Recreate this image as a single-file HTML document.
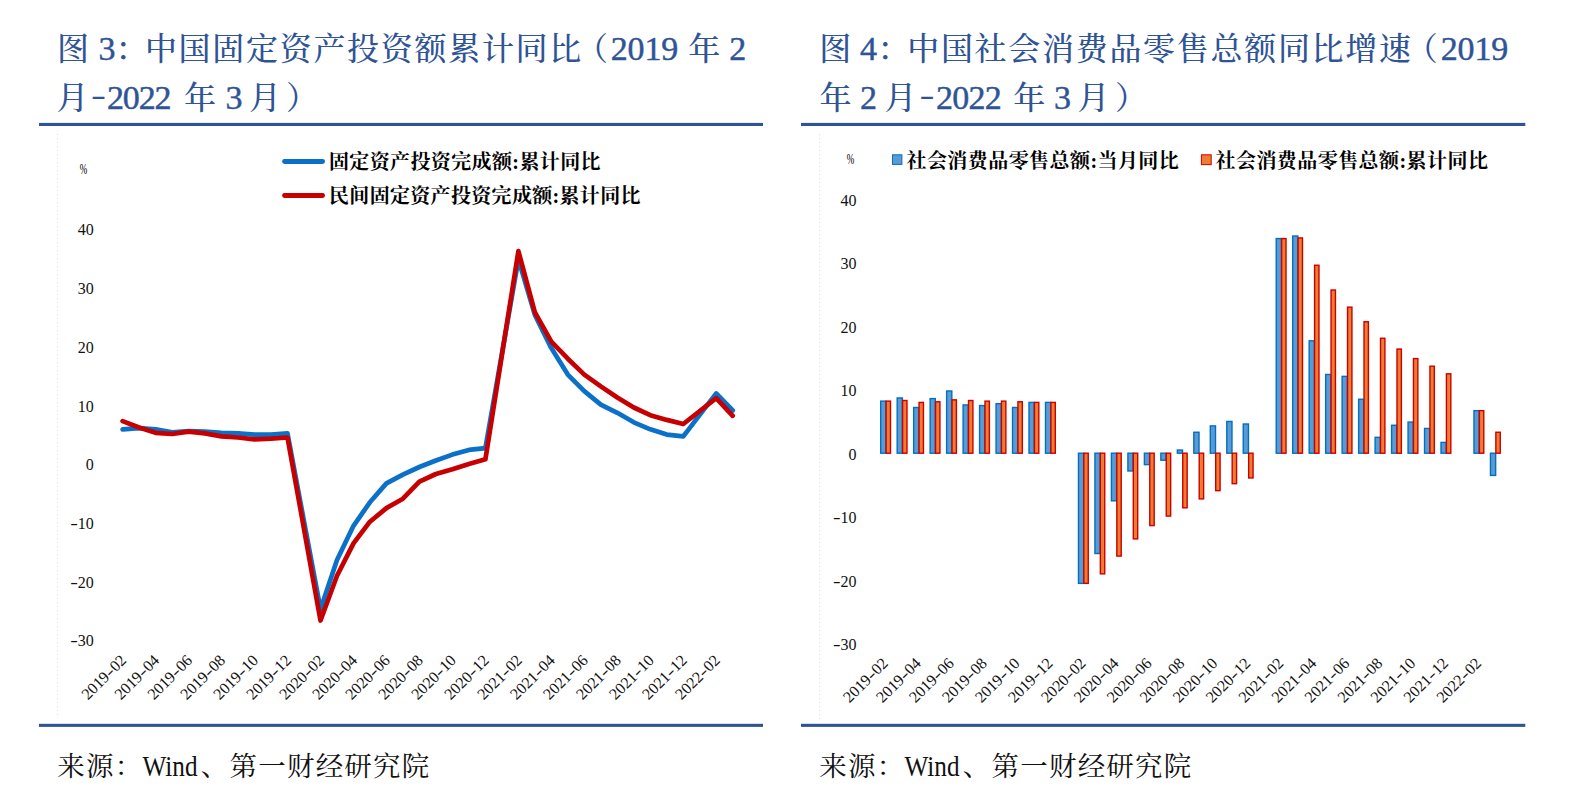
<!DOCTYPE html>
<html lang="zh-CN">
<head>
<meta charset="utf-8">
<title>图 3 / 图 4</title>
<style>
html,body{margin:0;padding:0;background:#fff;}
body{width:1574px;height:797px;overflow:hidden;position:relative;font-family:"Liberation Serif","Noto Serif CJK SC",serif;}
svg{position:absolute;left:0;top:0;display:block;}
text{white-space:pre;}
.ttl{font-family:"Liberation Serif","Noto Serif CJK SC",serif;font-size:32px;font-weight:500;fill:#2F5496;text-anchor:middle;}
.dg{font-size:34px;font-weight:400;stroke:#2F5496;stroke-width:0.45px;}
.src{font-family:"Liberation Serif","Noto Serif CJK SC",serif;font-size:27.5px;fill:#111;text-anchor:middle;}
.ax{font-family:"Liberation Serif","Noto Serif CJK SC",serif;font-size:16px;fill:#111;}
.pct{font-family:"Liberation Serif","Noto Serif CJK SC",serif;font-size:15.5px;fill:#000;}
.lg{font-family:"Liberation Serif","Noto Serif CJK SC",serif;font-size:20px;font-weight:700;fill:#000;}
</style>
</head>
<body>
<svg width="1574" height="797" viewBox="0 0 1574 797">
<rect x="0" y="0" width="1574" height="797" fill="#ffffff"/>

<rect x="39" y="122.9" width="724" height="3.1" fill="#2F5496"/>
<rect x="801" y="122.9" width="724.3" height="3.1" fill="#2F5496"/>
<rect x="39" y="723.8" width="724" height="3.1" fill="#2F5496"/>
<rect x="801" y="723.8" width="724.3" height="3.1" fill="#2F5496"/>
<line x1="57.5" y1="134" x2="57.5" y2="716" stroke="#e2dde0" stroke-width="1" stroke-dasharray="1 3"/>
<line x1="819.5" y1="134" x2="819.5" y2="719" stroke="#e2dde0" stroke-width="1" stroke-dasharray="1 3"/>
<text id="t1a" class="ttl" y="60.2" x="73.0 90.0 106.9 131.5 160.9 194.6 228.3 262.0 295.7 329.4 363.1 396.8 430.5 464.2 497.9 531.6 565.3 592.0 619.3 636.1 653.0 669.8 686.0 704.3 724.0 737.8">图 <tspan class="dg">3</tspan>：中国固定资产投资额累计同比（<tspan class="dg">2019</tspan> 年 <tspan class="dg">2</tspan></text>
<text id="t1b" class="ttl" y="109.4" x="72.6 98.6 115.4 131.3 147.2 163.1 177.0 199.9 220.0 234.0 247.0 265.0 302.0">月<tspan textLength="15" lengthAdjust="spacingAndGlyphs" dy="-4">-</tspan><tspan class="dg" dy="4">2022</tspan> 年 <tspan class="dg">3</tspan> 月）</text>
<text id="t2a" class="ttl" y="60.2" x="835.3 852.0 868.6 893.5 923.2 956.9 990.6 1024.3 1058.0 1091.7 1125.4 1159.1 1192.8 1226.5 1260.2 1293.9 1327.6 1361.3 1395.0 1421.7 1449.2 1466.0 1482.9 1499.8">图 <tspan class="dg">4</tspan>：中国社会消费品零售总额同比增速（<tspan class="dg">2019</tspan></text>
<text id="t2b" class="ttl" y="109.4" x="835.6 855.0 868.4 882.0 900.4 927.0 944.4 960.7 977.0 993.3 1008.0 1029.3 1048.0 1062.4 1076.0 1093.5 1131.0">年 <tspan class="dg">2</tspan> 月<tspan textLength="15" lengthAdjust="spacingAndGlyphs" dy="-4">-</tspan><tspan class="dg" dy="4">2022</tspan> 年 <tspan class="dg">3</tspan> 月）</text>
<text id="s1" class="src" y="775.5"><tspan x="71.1 99.8 128.5">来源：</tspan><tspan x="170.0" textLength="55" lengthAdjust="spacingAndGlyphs" font-size="29">Wind</tspan><tspan x="214.6 243.3 272.0 300.7 329.4 358.1 386.8 415.5">、第一财经研究院</tspan></text>
<text id="s2" class="src" y="775.5"><tspan x="833.1 861.8 890.5">来源：</tspan><tspan x="932.0" textLength="55" lengthAdjust="spacingAndGlyphs" font-size="29">Wind</tspan><tspan x="976.6 1005.3 1034.0 1062.7 1091.4 1120.1 1148.8 1177.5">、第一财经研究院</tspan></text>
<text class="pct" transform="translate(79.8,174.3) scale(0.58,1)">%</text>
<text class="ax" x="93.8" y="235.4" text-anchor="end">40</text>
<text class="ax" x="93.8" y="294.1" text-anchor="end">30</text>
<text class="ax" x="93.8" y="352.8" text-anchor="end">20</text>
<text class="ax" x="93.8" y="411.5" text-anchor="end">10</text>
<text class="ax" x="93.8" y="470.2" text-anchor="end">0</text>
<text class="ax" x="93.8" y="528.9" text-anchor="end"><tspan textLength="7.6" lengthAdjust="spacingAndGlyphs">-</tspan>10</text>
<text class="ax" x="93.8" y="587.6" text-anchor="end"><tspan textLength="7.6" lengthAdjust="spacingAndGlyphs">-</tspan>20</text>
<text class="ax" x="93.8" y="646.3" text-anchor="end"><tspan textLength="7.6" lengthAdjust="spacingAndGlyphs">-</tspan>30</text>
<text class="ax" transform="translate(127.2,661.3) rotate(-45)" text-anchor="end">2019<tspan textLength="7.6" lengthAdjust="spacingAndGlyphs">-</tspan>02</text>
<text class="ax" transform="translate(160.2,661.3) rotate(-45)" text-anchor="end">2019<tspan textLength="7.6" lengthAdjust="spacingAndGlyphs">-</tspan>04</text>
<text class="ax" transform="translate(193.2,661.3) rotate(-45)" text-anchor="end">2019<tspan textLength="7.6" lengthAdjust="spacingAndGlyphs">-</tspan>06</text>
<text class="ax" transform="translate(226.1,661.3) rotate(-45)" text-anchor="end">2019<tspan textLength="7.6" lengthAdjust="spacingAndGlyphs">-</tspan>08</text>
<text class="ax" transform="translate(259.1,661.3) rotate(-45)" text-anchor="end">2019<tspan textLength="7.6" lengthAdjust="spacingAndGlyphs">-</tspan>10</text>
<text class="ax" transform="translate(292.1,661.3) rotate(-45)" text-anchor="end">2019<tspan textLength="7.6" lengthAdjust="spacingAndGlyphs">-</tspan>12</text>
<text class="ax" transform="translate(325.1,661.3) rotate(-45)" text-anchor="end">2020<tspan textLength="7.6" lengthAdjust="spacingAndGlyphs">-</tspan>02</text>
<text class="ax" transform="translate(358.1,661.3) rotate(-45)" text-anchor="end">2020<tspan textLength="7.6" lengthAdjust="spacingAndGlyphs">-</tspan>04</text>
<text class="ax" transform="translate(391.0,661.3) rotate(-45)" text-anchor="end">2020<tspan textLength="7.6" lengthAdjust="spacingAndGlyphs">-</tspan>06</text>
<text class="ax" transform="translate(424.0,661.3) rotate(-45)" text-anchor="end">2020<tspan textLength="7.6" lengthAdjust="spacingAndGlyphs">-</tspan>08</text>
<text class="ax" transform="translate(457.0,661.3) rotate(-45)" text-anchor="end">2020<tspan textLength="7.6" lengthAdjust="spacingAndGlyphs">-</tspan>10</text>
<text class="ax" transform="translate(490.0,661.3) rotate(-45)" text-anchor="end">2020<tspan textLength="7.6" lengthAdjust="spacingAndGlyphs">-</tspan>12</text>
<text class="ax" transform="translate(523.0,661.3) rotate(-45)" text-anchor="end">2021<tspan textLength="7.6" lengthAdjust="spacingAndGlyphs">-</tspan>02</text>
<text class="ax" transform="translate(555.9,661.3) rotate(-45)" text-anchor="end">2021<tspan textLength="7.6" lengthAdjust="spacingAndGlyphs">-</tspan>04</text>
<text class="ax" transform="translate(588.9,661.3) rotate(-45)" text-anchor="end">2021<tspan textLength="7.6" lengthAdjust="spacingAndGlyphs">-</tspan>06</text>
<text class="ax" transform="translate(621.9,661.3) rotate(-45)" text-anchor="end">2021<tspan textLength="7.6" lengthAdjust="spacingAndGlyphs">-</tspan>08</text>
<text class="ax" transform="translate(654.9,661.3) rotate(-45)" text-anchor="end">2021<tspan textLength="7.6" lengthAdjust="spacingAndGlyphs">-</tspan>10</text>
<text class="ax" transform="translate(687.9,661.3) rotate(-45)" text-anchor="end">2021<tspan textLength="7.6" lengthAdjust="spacingAndGlyphs">-</tspan>12</text>
<text class="ax" transform="translate(720.8,661.3) rotate(-45)" text-anchor="end">2022<tspan textLength="7.6" lengthAdjust="spacingAndGlyphs">-</tspan>02</text>
<polyline points="122.6,429.3 139.1,428.1 155.6,429.3 172.1,432.3 188.6,431.1 205.0,431.7 221.5,432.8 238.0,433.4 254.5,434.6 271.0,434.6 287.5,433.4 320.5,609.3 337.0,559.9 353.5,525.8 369.9,502.3 386.4,483.4 402.9,474.6 419.4,467.0 435.9,460.5 452.4,454.6 468.9,449.9 485.4,448.1 518.4,259.3 534.8,314.6 551.3,348.1 567.8,374.6 584.3,391.1 600.8,404.6 617.3,412.8 633.8,422.3 650.3,429.3 666.8,434.6 683.3,436.4 716.2,393.4 732.7,410.5" fill="none" stroke="#0B70C8" stroke-width="4.7" stroke-linejoin="round" stroke-linecap="round"/>
<polyline points="122.6,421.1 139.1,427.5 155.6,432.8 172.1,434.0 188.6,431.7 205.0,433.4 221.5,436.4 238.0,437.5 254.5,439.3 271.0,438.7 287.5,437.5 320.5,620.5 337.0,575.8 353.5,543.4 369.9,521.7 386.4,508.1 402.9,498.7 419.4,481.7 435.9,474.0 452.4,469.3 468.9,464.0 485.4,459.3 518.4,251.1 534.8,312.2 551.3,341.7 567.8,358.7 584.3,374.6 600.8,386.4 617.3,397.5 633.8,407.5 650.3,415.2 666.8,419.9 683.3,424.0 716.2,398.1 732.7,415.8" fill="none" stroke="#C60000" stroke-width="4.7" stroke-linejoin="round" stroke-linecap="round"/>
<line x1="284.5" y1="161.5" x2="322.6" y2="161.5" stroke="#0B70C8" stroke-width="4.8" stroke-linecap="round"/>
<line x1="284.5" y1="195.5" x2="322.6" y2="195.5" stroke="#C60000" stroke-width="4.8" stroke-linecap="round"/>
<text id="l1" class="lg" x="329" y="168.5" textLength="271.5" lengthAdjust="spacing">固定资产投资完成额:累计同比</text>
<text id="l2" class="lg" x="329" y="203" textLength="311.5" lengthAdjust="spacing">民间固定资产投资完成额:累计同比</text>
<text class="pct" transform="translate(846.8,164.2) scale(0.58,1)">%</text>
<text class="ax" x="856.5" y="205.5" text-anchor="end">40</text>
<text class="ax" x="856.5" y="269.0" text-anchor="end">30</text>
<text class="ax" x="856.5" y="332.5" text-anchor="end">20</text>
<text class="ax" x="856.5" y="396.0" text-anchor="end">10</text>
<text class="ax" x="856.5" y="459.5" text-anchor="end">0</text>
<text class="ax" x="856.5" y="523.0" text-anchor="end"><tspan textLength="7.6" lengthAdjust="spacingAndGlyphs">-</tspan>10</text>
<text class="ax" x="856.5" y="586.5" text-anchor="end"><tspan textLength="7.6" lengthAdjust="spacingAndGlyphs">-</tspan>20</text>
<text class="ax" x="856.5" y="650.0" text-anchor="end"><tspan textLength="7.6" lengthAdjust="spacingAndGlyphs">-</tspan>30</text>
<text class="ax" transform="translate(888.9,664.3) rotate(-45)" text-anchor="end">2019<tspan textLength="7.6" lengthAdjust="spacingAndGlyphs">-</tspan>02</text>
<text class="ax" transform="translate(921.9,664.3) rotate(-45)" text-anchor="end">2019<tspan textLength="7.6" lengthAdjust="spacingAndGlyphs">-</tspan>04</text>
<text class="ax" transform="translate(954.8,664.3) rotate(-45)" text-anchor="end">2019<tspan textLength="7.6" lengthAdjust="spacingAndGlyphs">-</tspan>06</text>
<text class="ax" transform="translate(987.8,664.3) rotate(-45)" text-anchor="end">2019<tspan textLength="7.6" lengthAdjust="spacingAndGlyphs">-</tspan>08</text>
<text class="ax" transform="translate(1020.7,664.3) rotate(-45)" text-anchor="end">2019<tspan textLength="7.6" lengthAdjust="spacingAndGlyphs">-</tspan>10</text>
<text class="ax" transform="translate(1053.7,664.3) rotate(-45)" text-anchor="end">2019<tspan textLength="7.6" lengthAdjust="spacingAndGlyphs">-</tspan>12</text>
<text class="ax" transform="translate(1086.7,664.3) rotate(-45)" text-anchor="end">2020<tspan textLength="7.6" lengthAdjust="spacingAndGlyphs">-</tspan>02</text>
<text class="ax" transform="translate(1119.6,664.3) rotate(-45)" text-anchor="end">2020<tspan textLength="7.6" lengthAdjust="spacingAndGlyphs">-</tspan>04</text>
<text class="ax" transform="translate(1152.6,664.3) rotate(-45)" text-anchor="end">2020<tspan textLength="7.6" lengthAdjust="spacingAndGlyphs">-</tspan>06</text>
<text class="ax" transform="translate(1185.5,664.3) rotate(-45)" text-anchor="end">2020<tspan textLength="7.6" lengthAdjust="spacingAndGlyphs">-</tspan>08</text>
<text class="ax" transform="translate(1218.5,664.3) rotate(-45)" text-anchor="end">2020<tspan textLength="7.6" lengthAdjust="spacingAndGlyphs">-</tspan>10</text>
<text class="ax" transform="translate(1251.5,664.3) rotate(-45)" text-anchor="end">2020<tspan textLength="7.6" lengthAdjust="spacingAndGlyphs">-</tspan>12</text>
<text class="ax" transform="translate(1284.4,664.3) rotate(-45)" text-anchor="end">2021<tspan textLength="7.6" lengthAdjust="spacingAndGlyphs">-</tspan>02</text>
<text class="ax" transform="translate(1317.4,664.3) rotate(-45)" text-anchor="end">2021<tspan textLength="7.6" lengthAdjust="spacingAndGlyphs">-</tspan>04</text>
<text class="ax" transform="translate(1350.3,664.3) rotate(-45)" text-anchor="end">2021<tspan textLength="7.6" lengthAdjust="spacingAndGlyphs">-</tspan>06</text>
<text class="ax" transform="translate(1383.3,664.3) rotate(-45)" text-anchor="end">2021<tspan textLength="7.6" lengthAdjust="spacingAndGlyphs">-</tspan>08</text>
<text class="ax" transform="translate(1416.3,664.3) rotate(-45)" text-anchor="end">2021<tspan textLength="7.6" lengthAdjust="spacingAndGlyphs">-</tspan>10</text>
<text class="ax" transform="translate(1449.2,664.3) rotate(-45)" text-anchor="end">2021<tspan textLength="7.6" lengthAdjust="spacingAndGlyphs">-</tspan>12</text>
<text class="ax" transform="translate(1482.2,664.3) rotate(-45)" text-anchor="end">2022<tspan textLength="7.6" lengthAdjust="spacingAndGlyphs">-</tspan>02</text>
<rect x="880.70" y="401.13" width="5.20" height="52.07" fill="#5B9BD5" stroke="#0070C0" stroke-width="1.4"/>
<rect x="886.10" y="401.13" width="4.40" height="52.07" fill="#ED7D31" stroke="#CC0000" stroke-width="1.4"/>
<rect x="897.18" y="397.95" width="5.20" height="55.24" fill="#5B9BD5" stroke="#0070C0" stroke-width="1.4"/>
<rect x="902.58" y="400.50" width="4.40" height="52.70" fill="#ED7D31" stroke="#CC0000" stroke-width="1.4"/>
<rect x="913.66" y="407.48" width="5.20" height="45.72" fill="#5B9BD5" stroke="#0070C0" stroke-width="1.4"/>
<rect x="919.06" y="402.40" width="4.40" height="50.80" fill="#ED7D31" stroke="#CC0000" stroke-width="1.4"/>
<rect x="930.14" y="398.59" width="5.20" height="54.61" fill="#5B9BD5" stroke="#0070C0" stroke-width="1.4"/>
<rect x="935.54" y="401.76" width="4.40" height="51.43" fill="#ED7D31" stroke="#CC0000" stroke-width="1.4"/>
<rect x="946.62" y="390.97" width="5.20" height="62.23" fill="#5B9BD5" stroke="#0070C0" stroke-width="1.4"/>
<rect x="952.02" y="399.86" width="4.40" height="53.34" fill="#ED7D31" stroke="#CC0000" stroke-width="1.4"/>
<rect x="963.10" y="404.94" width="5.20" height="48.26" fill="#5B9BD5" stroke="#0070C0" stroke-width="1.4"/>
<rect x="968.50" y="400.50" width="4.40" height="52.70" fill="#ED7D31" stroke="#CC0000" stroke-width="1.4"/>
<rect x="979.58" y="405.57" width="5.20" height="47.62" fill="#5B9BD5" stroke="#0070C0" stroke-width="1.4"/>
<rect x="984.98" y="401.13" width="4.40" height="52.07" fill="#ED7D31" stroke="#CC0000" stroke-width="1.4"/>
<rect x="996.06" y="403.67" width="5.20" height="49.53" fill="#5B9BD5" stroke="#0070C0" stroke-width="1.4"/>
<rect x="1001.46" y="401.13" width="4.40" height="52.07" fill="#ED7D31" stroke="#CC0000" stroke-width="1.4"/>
<rect x="1012.54" y="407.48" width="5.20" height="45.72" fill="#5B9BD5" stroke="#0070C0" stroke-width="1.4"/>
<rect x="1017.94" y="401.76" width="4.40" height="51.43" fill="#ED7D31" stroke="#CC0000" stroke-width="1.4"/>
<rect x="1029.02" y="402.40" width="5.20" height="50.80" fill="#5B9BD5" stroke="#0070C0" stroke-width="1.4"/>
<rect x="1034.42" y="402.40" width="4.40" height="50.80" fill="#ED7D31" stroke="#CC0000" stroke-width="1.4"/>
<rect x="1045.50" y="402.40" width="5.20" height="50.80" fill="#5B9BD5" stroke="#0070C0" stroke-width="1.4"/>
<rect x="1050.90" y="402.40" width="4.40" height="50.80" fill="#ED7D31" stroke="#CC0000" stroke-width="1.4"/>
<rect x="1078.46" y="453.20" width="5.20" height="130.17" fill="#5B9BD5" stroke="#0070C0" stroke-width="1.4"/>
<rect x="1083.86" y="453.20" width="4.40" height="130.17" fill="#ED7D31" stroke="#CC0000" stroke-width="1.4"/>
<rect x="1094.94" y="453.20" width="5.20" height="100.33" fill="#5B9BD5" stroke="#0070C0" stroke-width="1.4"/>
<rect x="1100.34" y="453.20" width="4.40" height="120.65" fill="#ED7D31" stroke="#CC0000" stroke-width="1.4"/>
<rect x="1111.42" y="453.20" width="5.20" height="47.62" fill="#5B9BD5" stroke="#0070C0" stroke-width="1.4"/>
<rect x="1116.82" y="453.20" width="4.40" height="102.87" fill="#ED7D31" stroke="#CC0000" stroke-width="1.4"/>
<rect x="1127.90" y="453.20" width="5.20" height="17.78" fill="#5B9BD5" stroke="#0070C0" stroke-width="1.4"/>
<rect x="1133.30" y="453.20" width="4.40" height="85.72" fill="#ED7D31" stroke="#CC0000" stroke-width="1.4"/>
<rect x="1144.38" y="453.20" width="5.20" height="11.43" fill="#5B9BD5" stroke="#0070C0" stroke-width="1.4"/>
<rect x="1149.78" y="453.20" width="4.40" height="72.39" fill="#ED7D31" stroke="#CC0000" stroke-width="1.4"/>
<rect x="1160.86" y="453.20" width="5.20" height="6.99" fill="#5B9BD5" stroke="#0070C0" stroke-width="1.4"/>
<rect x="1166.26" y="453.20" width="4.40" height="62.87" fill="#ED7D31" stroke="#CC0000" stroke-width="1.4"/>
<rect x="1177.34" y="450.02" width="5.20" height="3.17" fill="#5B9BD5" stroke="#0070C0" stroke-width="1.4"/>
<rect x="1182.74" y="453.20" width="4.40" height="54.61" fill="#ED7D31" stroke="#CC0000" stroke-width="1.4"/>
<rect x="1193.82" y="432.25" width="5.20" height="20.95" fill="#5B9BD5" stroke="#0070C0" stroke-width="1.4"/>
<rect x="1199.22" y="453.20" width="4.40" height="45.72" fill="#ED7D31" stroke="#CC0000" stroke-width="1.4"/>
<rect x="1210.30" y="425.89" width="5.20" height="27.30" fill="#5B9BD5" stroke="#0070C0" stroke-width="1.4"/>
<rect x="1215.70" y="453.20" width="4.40" height="37.47" fill="#ED7D31" stroke="#CC0000" stroke-width="1.4"/>
<rect x="1226.78" y="421.45" width="5.20" height="31.75" fill="#5B9BD5" stroke="#0070C0" stroke-width="1.4"/>
<rect x="1232.18" y="453.20" width="4.40" height="30.48" fill="#ED7D31" stroke="#CC0000" stroke-width="1.4"/>
<rect x="1243.26" y="423.99" width="5.20" height="29.21" fill="#5B9BD5" stroke="#0070C0" stroke-width="1.4"/>
<rect x="1248.66" y="453.20" width="4.40" height="24.76" fill="#ED7D31" stroke="#CC0000" stroke-width="1.4"/>
<rect x="1276.22" y="238.57" width="5.20" height="214.63" fill="#5B9BD5" stroke="#0070C0" stroke-width="1.4"/>
<rect x="1281.62" y="238.57" width="4.40" height="214.63" fill="#ED7D31" stroke="#CC0000" stroke-width="1.4"/>
<rect x="1292.70" y="236.03" width="5.20" height="217.17" fill="#5B9BD5" stroke="#0070C0" stroke-width="1.4"/>
<rect x="1298.10" y="237.94" width="4.40" height="215.26" fill="#ED7D31" stroke="#CC0000" stroke-width="1.4"/>
<rect x="1309.18" y="340.81" width="5.20" height="112.39" fill="#5B9BD5" stroke="#0070C0" stroke-width="1.4"/>
<rect x="1314.58" y="265.24" width="4.40" height="187.96" fill="#ED7D31" stroke="#CC0000" stroke-width="1.4"/>
<rect x="1325.66" y="374.46" width="5.20" height="78.74" fill="#5B9BD5" stroke="#0070C0" stroke-width="1.4"/>
<rect x="1331.06" y="290.00" width="4.40" height="163.19" fill="#ED7D31" stroke="#CC0000" stroke-width="1.4"/>
<rect x="1342.14" y="376.37" width="5.20" height="76.83" fill="#5B9BD5" stroke="#0070C0" stroke-width="1.4"/>
<rect x="1347.54" y="307.15" width="4.40" height="146.05" fill="#ED7D31" stroke="#CC0000" stroke-width="1.4"/>
<rect x="1358.62" y="399.23" width="5.20" height="53.97" fill="#5B9BD5" stroke="#0070C0" stroke-width="1.4"/>
<rect x="1364.02" y="321.75" width="4.40" height="131.44" fill="#ED7D31" stroke="#CC0000" stroke-width="1.4"/>
<rect x="1375.10" y="437.32" width="5.20" height="15.88" fill="#5B9BD5" stroke="#0070C0" stroke-width="1.4"/>
<rect x="1380.50" y="338.26" width="4.40" height="114.94" fill="#ED7D31" stroke="#CC0000" stroke-width="1.4"/>
<rect x="1391.58" y="425.26" width="5.20" height="27.94" fill="#5B9BD5" stroke="#0070C0" stroke-width="1.4"/>
<rect x="1396.98" y="349.06" width="4.40" height="104.14" fill="#ED7D31" stroke="#CC0000" stroke-width="1.4"/>
<rect x="1408.06" y="422.08" width="5.20" height="31.12" fill="#5B9BD5" stroke="#0070C0" stroke-width="1.4"/>
<rect x="1413.46" y="358.58" width="4.40" height="94.61" fill="#ED7D31" stroke="#CC0000" stroke-width="1.4"/>
<rect x="1424.54" y="428.44" width="5.20" height="24.76" fill="#5B9BD5" stroke="#0070C0" stroke-width="1.4"/>
<rect x="1429.94" y="366.20" width="4.40" height="86.99" fill="#ED7D31" stroke="#CC0000" stroke-width="1.4"/>
<rect x="1441.02" y="442.40" width="5.20" height="10.79" fill="#5B9BD5" stroke="#0070C0" stroke-width="1.4"/>
<rect x="1446.42" y="373.82" width="4.40" height="79.38" fill="#ED7D31" stroke="#CC0000" stroke-width="1.4"/>
<rect x="1473.98" y="410.65" width="5.20" height="42.55" fill="#5B9BD5" stroke="#0070C0" stroke-width="1.4"/>
<rect x="1479.38" y="410.65" width="4.40" height="42.55" fill="#ED7D31" stroke="#CC0000" stroke-width="1.4"/>
<rect x="1490.46" y="453.20" width="5.20" height="22.22" fill="#5B9BD5" stroke="#0070C0" stroke-width="1.4"/>
<rect x="1495.86" y="432.25" width="4.40" height="20.95" fill="#ED7D31" stroke="#CC0000" stroke-width="1.4"/>
<rect x="892.5" y="154.8" width="9.4" height="9.6" fill="#5B9BD5" stroke="#0070C0" stroke-width="1"/>
<text id="l3" class="lg" x="906.5" y="168" textLength="272.3" lengthAdjust="spacing">社会消费品零售总额:当月同比</text>
<rect x="1201.4" y="154.8" width="9.8" height="9.8" fill="#ED7D31" stroke="#D00000" stroke-width="1"/>
<text id="l4" class="lg" x="1215.5" y="168" textLength="272.4" lengthAdjust="spacing">社会消费品零售总额:累计同比</text>
</svg>
</body>
</html>
